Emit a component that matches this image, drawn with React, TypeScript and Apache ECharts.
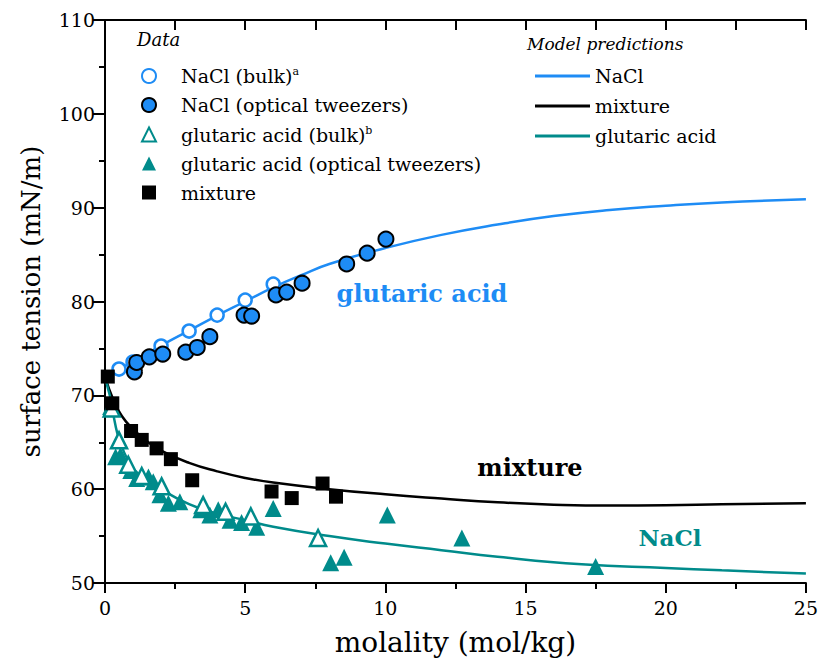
import React, { useEffect, useRef } from "react";
import * as echarts from "echarts";

// ---- data (molality mol/kg, surface tension mN/m) ----
const naclBulk: number[][] = [
  [0.5, 72.8], [1.0, 73.55], [2.0, 75.25], [3.0, 76.85], [4.0, 78.55], [5.0, 80.15], [6.0, 81.85],
];
const naclOT: number[][] = [
  [1.05, 72.5], [1.13, 73.5], [1.58, 74.1], [2.06, 74.4], [2.88, 74.6], [3.29, 75.1], [3.74, 76.25],
  [4.96, 78.55], [5.23, 78.45], [6.1, 80.7], [6.48, 81.0], [7.03, 81.95], [8.62, 84.0], [9.35, 85.15], [10.02, 86.65],
];
const gaBulk: number[][] = [
  [0.24, 68.6], [0.5, 65.2], [0.83, 62.6], [1.31, 61.4], [2.02, 60.3], [3.5, 58.3], [4.3, 57.6], [5.2, 57.1], [7.6, 54.8],
];
const gaOT: number[][] = [
  [0.2, 68.8], [0.38, 63.45], [0.55, 63.6], [0.92, 62.0], [1.13, 61.15], [1.55, 61.3], [1.72, 60.8],
  [1.96, 59.4], [2.26, 58.5], [2.67, 58.65], [3.42, 57.8], [3.74, 57.25], [4.04, 57.8], [4.46, 56.7],
  [4.87, 56.45], [5.41, 55.95], [6.0, 57.95], [8.05, 52.15], [8.53, 52.75], [10.07, 57.25], [12.73, 54.8], [17.5, 51.75],
];
const mixtureData: number[][] = [
  [0.1, 72.0], [0.26, 69.15], [0.93, 66.2], [1.31, 65.25], [1.84, 64.35], [2.35, 63.2], [3.11, 60.95],
  [5.94, 59.75], [6.66, 59.05], [7.76, 60.6], [8.24, 59.2],
];
// model predictions
const naclModel: number[][] = [
  [0, 72.0], [0.5, 72.8], [1, 73.6], [2, 75.3], [3, 76.9], [4, 78.5], [5, 80.0], [6, 81.5], [7, 82.8],
  [8, 84.0], [10, 85.7], [12, 87.1], [14, 88.2], [16, 89.1], [18, 89.75], [20, 90.2], [22, 90.55], [25, 90.9],
];
const mixtureModel: number[][] = [
  [0, 72.0], [0.3, 69.5], [0.6, 67.8], [1, 66.4], [1.5, 65.1], [2, 64.1], [3, 62.8], [4, 61.9], [5, 61.2],
  [6, 60.7], [8, 60.0], [10, 59.45], [12, 59.0], [14, 58.6], [16, 58.35], [18, 58.25], [20, 58.28], [22, 58.38], [25, 58.5],
];
const gaModel: number[][] = [
  [0, 72.0], [0.1, 70.8], [0.2, 69.6], [0.36, 67.0], [0.5, 65.4], [0.83, 63.0], [1.2, 61.6], [2, 60.0],
  [3, 58.4], [4, 57.4], [5, 56.7], [6, 56.0], [8, 55.0], [10, 54.2], [12, 53.5], [14, 52.8], [17, 52.0],
  [20, 51.6], [22, 51.35], [25, 51.0],
];

const xTicks = { min: 0, max: 25, interval: 5 };
const yTicks = { min: 50, max: 110, interval: 10 };

const BLUE = "#1E8CF5";
const TEAL = "#008B8B";
const FONT = "DejaVu Serif";

const dataLegendNames = [
  "NaCl (bulk)", "NaCl (optical tweezers)", "glutaric acid (bulk)", "glutaric acid (optical tweezers)", "mixture (data)",
];
const modelLegendNames = ["NaCl (model)", "mixture (model)", "glutaric acid (model)"];
const legendLabels: Record<string, string> = {
  "NaCl (bulk)": "{sp|}{t|NaCl (bulk)}{sup|a}",
  "NaCl (optical tweezers)": "{sp|}{t|NaCl (optical tweezers)}",
  "glutaric acid (bulk)": "{sp|}{t|glutaric acid (bulk)}{sup|b}",
  "glutaric acid (optical tweezers)": "{sp|}{t|glutaric acid (optical tweezers)}",
  "mixture (data)": "{sp|}{t|mixture}",
  "NaCl (model)": "NaCl",
  "mixture (model)": "mixture",
  "glutaric acid (model)": "glutaric acid",
};

export default function App() {
  const ref = useRef<HTMLDivElement>(null);
  useEffect(() => {
    document.body.style.margin = "0";
    const chart = echarts.init(ref.current!, undefined, { renderer: "svg" });
    const axisLineStyle = { color: "#000", width: 2 };
    const option: any = {
      animation: false,
      backgroundColor: "#fff",
      textStyle: { fontFamily: FONT },
      grid: { left: 105, right: 15, top: 20, bottom: 82 },
      xAxis: [
        {
          type: "value", position: "bottom", ...xTicks,
          name: "molality (mol/kg)", nameLocation: "middle", nameGap: 45,
          nameTextStyle: { fontSize: 28, color: "#000", fontFamily: FONT },
          axisLine: { show: true, lineStyle: axisLineStyle },
          axisTick: { show: true, inside: false, length: 10, lineStyle: { width: 2, color: "#000" } },
          minorTick: { show: true, splitNumber: 2, length: 6, lineStyle: { width: 2, color: "#000" } },
          axisLabel: { fontSize: 19, color: "#000", margin: 15, fontFamily: FONT },
          splitLine: { show: false },
        },
        {
          type: "value", position: "top", min: 0, max: 25, interval: 2.5,
          axisLine: { show: true, lineStyle: axisLineStyle },
          axisTick: { show: true, inside: true, length: 10, lineStyle: { width: 2, color: "#000" } },
          axisLabel: { show: false },
          splitLine: { show: false },
        },
      ],
      yAxis: [
        {
          type: "value", position: "left", ...yTicks,
          name: "surface tension (mN/m)", nameLocation: "middle", nameGap: 61,
          nameTextStyle: { fontSize: 26, color: "#000", fontFamily: FONT },
          axisLine: { show: true, lineStyle: axisLineStyle },
          axisTick: { show: true, inside: false, length: 10, lineStyle: { width: 2, color: "#000" } },
          minorTick: { show: true, splitNumber: 2, length: 6, lineStyle: { width: 2, color: "#000" } },
          axisLabel: { fontSize: 19, color: "#000", margin: 10, fontFamily: FONT },
          splitLine: { show: false },
        },
        {
          type: "value", position: "right", ...yTicks,
          axisLine: { show: true, lineStyle: axisLineStyle },
          axisTick: { show: true, inside: true, length: 12, lineStyle: { width: 2, color: "#000" } },
          minorTick: { show: true, splitNumber: 2, length: 6, lineStyle: { width: 2, color: "#000" } },
          axisLabel: { show: false },
          splitLine: { show: false },
        },
      ],
      legend: [
        {
          data: dataLegendNames, orient: "vertical", left: 136, top: 61,
          itemWidth: 14, itemHeight: 14, itemGap: 10,
          formatter: (n: string) => legendLabels[n],
          textStyle: {
            color: "#000", fontFamily: FONT,
            rich: {
              sp: { width: 20 },
              t: { fontSize: 19, lineHeight: 20, fontFamily: FONT, color: "#000" },
              sup: { fontSize: 11, verticalAlign: "top", lineHeight: 12, fontFamily: FONT, color: "#000" },
            },
          },
        },
        {
          data: modelLegendNames.map((n) => ({ name: n, icon: "rect" })), orient: "vertical", left: 530, top: 61,
          itemWidth: 55, itemHeight: 3, itemGap: 10,
          formatter: (n: string) => legendLabels[n],
          textStyle: { color: "#000", fontFamily: FONT, fontSize: 19, lineHeight: 20 },
        },
      ],
      graphic: [
        { type: "text", left: 137, top: 30, style: { text: "Data", fontSize: 18, fontStyle: "italic", fontFamily: FONT, fill: "#000" } },
        { type: "text", left: 527, top: 35, style: { text: "Model predictions", fontSize: 17, fontStyle: "italic", fontFamily: FONT, fill: "#000" } },
        { type: "text", x: 422, y: 293, style: { text: "glutaric acid", fontSize: 24, fontWeight: "bold", fontFamily: FONT, fill: BLUE, align: "center", verticalAlign: "middle" } },
        { type: "text", x: 530, y: 467, style: { text: "mixture", fontSize: 24, fontWeight: "bold", fontFamily: FONT, fill: "#000", align: "center", verticalAlign: "middle" } },
        { type: "text", x: 670, y: 537, style: { text: "NaCl", fontSize: 23, fontWeight: "bold", fontFamily: FONT, fill: TEAL, align: "center", verticalAlign: "middle" } },
      ],
      series: [
        { name: "NaCl (model)", type: "line", data: naclModel, smooth: true, symbol: "none", lineStyle: { color: BLUE, width: 2.5 }, itemStyle: { color: BLUE }, z: 2 },
        { name: "mixture (model)", type: "line", data: mixtureModel, smooth: true, symbol: "none", lineStyle: { color: "#000", width: 2.5 }, itemStyle: { color: "#000" }, z: 2 },
        { name: "glutaric acid (model)", type: "line", data: gaModel, smooth: true, symbol: "none", lineStyle: { color: TEAL, width: 2.5 }, itemStyle: { color: TEAL }, z: 2 },
        { name: "glutaric acid (optical tweezers)", type: "scatter", data: gaOT, symbol: "triangle", symbolSize: 17, itemStyle: { color: TEAL, opacity: 1 }, z: 3 },
        { name: "glutaric acid (bulk)", type: "scatter", data: gaBulk, symbol: "triangle", symbolSize: 16, itemStyle: { color: "#fff", borderColor: TEAL, borderWidth: 2.5, opacity: 1 }, z: 3 },
        { name: "NaCl (bulk)", type: "scatter", data: naclBulk, symbol: "circle", symbolSize: 13, itemStyle: { color: "#fff", borderColor: BLUE, borderWidth: 2.5, opacity: 1 }, z: 3 },
        { name: "NaCl (optical tweezers)", type: "scatter", data: naclOT, symbol: "circle", symbolSize: 15, itemStyle: { color: BLUE, borderColor: "#000", borderWidth: 2, opacity: 1 }, z: 3 },
        { name: "mixture (data)", type: "scatter", data: mixtureData, symbol: "rect", symbolSize: 14, itemStyle: { color: "#000", opacity: 1 }, z: 4 },
      ],
    };
    chart.setOption(option);
    return () => chart.dispose();
  }, []);
  return <div ref={ref} style={{ width: 821, height: 665 }} />;
}
